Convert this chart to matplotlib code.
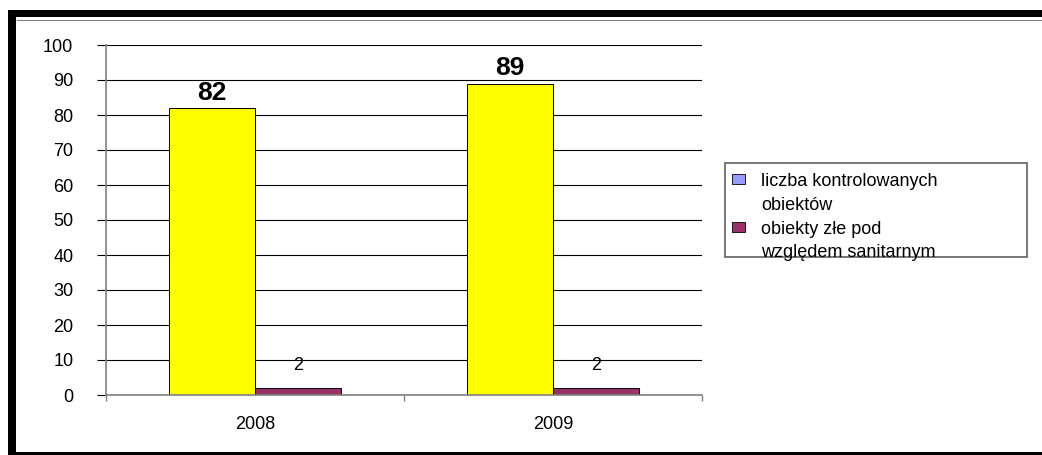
import matplotlib.pyplot as plt
from matplotlib.patches import Rectangle, Patch
from matplotlib.legend_handler import HandlerPatch

plt.rcParams['font.family'] = ['Liberation Sans', 'DejaVu Sans']

years = ['2008', '2009']
kontrolowane = [82, 89]
zle = [2, 2]
legend_labels = ['liczba kontrolowanych\nobiektów', 'obiekty złe pod\nwzględem sanitarnym']

fig = plt.figure(figsize=(10.42, 4.55), dpi=100)
ax = fig.add_axes([106 / 1042, 1 - 395 / 455, 596 / 1042, 350 / 455])

x = list(range(len(years)))
w = 0.29
b1 = ax.bar([i - w / 2 for i in x], kontrolowane, w, color='#FFFF00',
            edgecolor='black', linewidth=0.7, zorder=3)
b2 = ax.bar([i + w / 2 for i in x], zle, w, color='#993366',
            edgecolor='black', linewidth=0.7, zorder=3)

# data labels
for i, v in enumerate(kontrolowane):
    ax.annotate(str(v), (i - w / 2, v), xytext=(0, 11), textcoords='offset points',
                ha='center', va='center', fontsize=19, fontweight='bold')
for i, v in enumerate(zle):
    ax.annotate(str(v), (i + w / 2, v), xytext=(0, 16), textcoords='offset points',
                ha='center', va='center', fontsize=13)

ax.set_xlim(-0.5, len(years) - 0.5)
ax.set_ylim(0, 100)
ax.set_yticks(range(0, 101, 10))
ax.yaxis.grid(True, color='black', linewidth=0.8, zorder=0)
ax.set_axisbelow(True)
ax.tick_params(axis='y', direction='out', length=6.5, width=0.8, color='black',
               pad=17, labelsize=13)
ax.set_xticks(x)
ax.set_xticklabels(years)
ax.set_xticks([-0.5, 0.5, 1.5], minor=True)
ax.tick_params(axis='x', which='major', length=0, pad=15, labelsize=13)
ax.tick_params(axis='x', which='minor', direction='out', length=4.5, width=1, color='#808080')
for s in ['top', 'right']:
    ax.spines[s].set_visible(False)
for s in ['left', 'bottom']:
    ax.spines[s].set_color('#808080')
    ax.spines[s].set_linewidth(1.2)
    ax.spines[s].set_zorder(4)


def up_patch(legend, orig_handle, xdescent, ydescent, width, height, fontsize):
    return Rectangle((-xdescent, -ydescent + 0.8 * fontsize), width, height)


W, H = 1042, 455
handles = [Patch(facecolor='#9999FF', edgecolor='black', linewidth=0.6),
           Patch(facecolor='#993366', edgecolor='black', linewidth=0.6)]
leg = fig.legend(handles, legend_labels, loc='upper left',
                 bbox_to_anchor=(725 / W, 1 - 166 / H), fontsize=13,
                 frameon=False, handlelength=0.7, handleheight=0.5, handletextpad=0.9,
                 labelspacing=0.4, borderpad=0.4, borderaxespad=0,
                 handler_map={Patch: HandlerPatch(patch_func=up_patch)})
for t in leg.get_texts():
    t.set_linespacing(1.5)

def band(x0, y0, x1, y1, fc='black', ec='none', lw=0):
    fig.add_artist(Rectangle((x0 / W, 1 - y1 / H), (x1 - x0) / W, (y1 - y0) / H,
                             transform=fig.transFigure, facecolor=fc,
                             edgecolor=ec, linewidth=lw))

# legend frame
band(725, 163, 1027, 257, fc='none', ec='#606060', lw=1.2)

# outer chart frame
band(8, 10, W, 17)
band(8, 10, 16, H)
band(8, 452, W, H)
band(17, 19.5, W, 21, fc='#808080')

fig.savefig('out.png', dpi=100)
